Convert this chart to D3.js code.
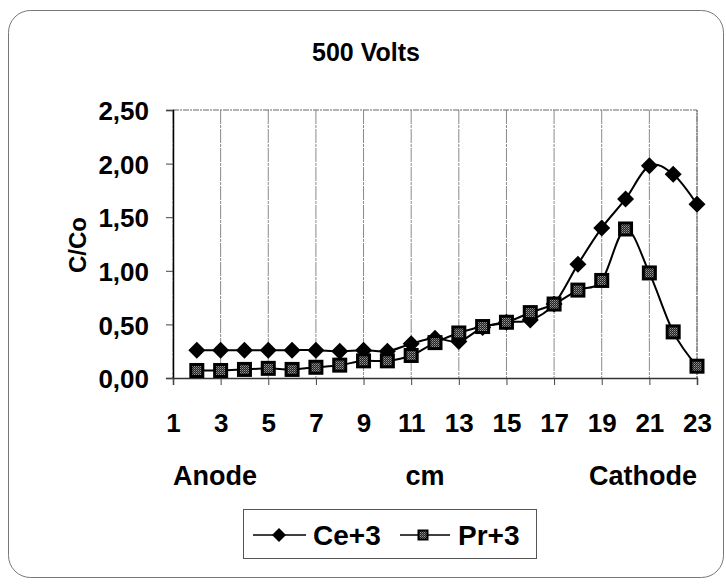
<!DOCTYPE html>
<html>
<head>
<meta charset="utf-8">
<script src="https://cdn.jsdelivr.net/npm/d3@7"></script>
<style>
  html, body { margin: 0; padding: 0; background: #fff; }
  svg text { font-family: "Liberation Sans", Arial, sans-serif; font-weight: bold; fill: #000; }
</style>
</head>
<body>
<svg id="chart" width="726" height="584"></svg>
<script>
// Concentration profile along the cell at 500 V
const categories = d3.range(1, 24);               // positions 1..23 cm
const positions = d3.range(2, 24);                // measured positions
const ceValues = [0.26, 0.26, 0.26, 0.26, 0.26, 0.26, 0.25, 0.26, 0.25, 0.32, 0.37,
                  0.34, 0.47, 0.52, 0.54, 0.69, 1.06, 1.40, 1.67, 1.98, 1.90, 1.62];
const prValues = [0.07, 0.07, 0.08, 0.09, 0.08, 0.10, 0.12, 0.16, 0.16, 0.21, 0.33,
                  0.42, 0.48, 0.52, 0.61, 0.69, 0.82, 0.91, 1.39, 0.98, 0.43, 0.11];
const xTickLabels = [1, 3, 5, 7, 9, 11, 13, 15, 17, 19, 21, 23];
const yTicks = [0, 0.5, 1.0, 1.5, 2.0, 2.5];
const seriesNames = ["Ce+3", "Pr+3"];

const svg = d3.select("#chart");
const plot = { left: 173, right: 697, top: 110, bottom: 378 };

const x = d3.scalePoint().domain(categories).range([plot.left, plot.right]);
const y = d3.scaleLinear().domain([0, 2.5]).range([plot.bottom, plot.top]);
const fmt = v => d3.format(".2f")(v).replace(".", ",");

// dithered grey fill for the square markers
const defs = svg.append("defs");
const pat = defs.append("pattern").attr("id", "dither")
  .attr("width", 2).attr("height", 2).attr("patternUnits", "userSpaceOnUse");
pat.append("rect").attr("width", 2).attr("height", 2).attr("fill", "#222");
pat.append("rect").attr("width", 1).attr("height", 1).attr("fill", "#999");
pat.append("rect").attr("x", 1).attr("y", 1).attr("width", 1).attr("height", 1).attr("fill", "#666");

// outer frame
svg.append("rect")
  .attr("x", 8.5).attr("y", 10.5).attr("width", 715).attr("height", 567)
  .attr("rx", 22).attr("ry", 22)
  .attr("fill", "none").attr("stroke", "#777").attr("stroke-width", 1);

// title
svg.append("text").attr("x", 366).attr("y", 61).attr("text-anchor", "middle")
  .attr("font-size", 25).text("500 Volts");

// vertical gridlines at labelled positions
svg.append("g").selectAll("line").data(xTickLabels).join("line")
  .attr("x1", d => x(d)).attr("x2", d => x(d))
  .attr("y1", plot.top).attr("y2", plot.bottom)
  .attr("stroke", "#8a8a8a").attr("stroke-width", 1)
  .attr("stroke-dasharray", "14,1,3,1");

// plot area top and right border
svg.append("path")
  .attr("d", `M${plot.left},${plot.top}H${plot.right}V${plot.bottom}`)
  .attr("fill", "none").attr("stroke", "#666").attr("stroke-width", 1)
  .attr("stroke-dasharray", "6,1,2,1");

// y axis
const yAxis = d3.axisLeft(y).tickValues(yTicks).tickFormat(fmt).tickSize(7).tickPadding(17);
const gy = svg.append("g").attr("transform", `translate(${plot.left},0)`).call(yAxis);
gy.select(".domain").attr("stroke", "#000").attr("stroke-width", 1.5);
gy.selectAll(".tick line").attr("stroke", "#444");
gy.selectAll(".tick text").attr("font-size", 26).attr("dy", "0.37em");

// x axis
const xAxis = d3.axisBottom(x).tickValues(xTickLabels).tickSize(7);
const gx = svg.append("g").attr("transform", `translate(0,${plot.bottom})`).call(xAxis);
gx.select(".domain").attr("stroke", "#333").attr("stroke-width", 1.5);
gx.selectAll(".tick line").attr("stroke", "#444");
gx.selectAll(".tick text").attr("font-size", 26).attr("y", 54).attr("dy", 0);

// axis titles
svg.append("text").attr("transform", "translate(86,245) rotate(-90)")
  .attr("text-anchor", "middle").attr("font-size", 24).text("C/Co");
svg.append("text").attr("x", plot.left).attr("y", 485).attr("font-size", 27).text("Anode");
svg.append("text").attr("x", 425).attr("y", 485).attr("text-anchor", "middle").attr("font-size", 27).text("cm");
svg.append("text").attr("x", plot.right).attr("y", 485).attr("text-anchor", "end").attr("font-size", 27).text("Cathode");

// series
const line = d3.line().x(d => x(d[0])).y(d => y(d[1])).curve(d3.curveCatmullRom.alpha(0));
const ceData = positions.map((p, i) => [p, ceValues[i]]);
const prData = positions.map((p, i) => [p, prValues[i]]);

const diamond = (cx, cy, r) => `M${cx},${cy - r}L${cx + r},${cy}L${cx},${cy + r}L${cx - r},${cy}Z`;

svg.append("path").datum(ceData).attr("d", line)
  .attr("fill", "none").attr("stroke", "#000").attr("stroke-width", 2);
svg.append("path").datum(prData).attr("d", line)
  .attr("fill", "none").attr("stroke", "#000").attr("stroke-width", 2);

svg.append("g").selectAll("path").data(ceData).join("path")
  .attr("d", d => diamond(x(d[0]), y(d[1]), 8.5)).attr("fill", "#000");

svg.append("g").selectAll("rect").data(prData).join("rect")
  .attr("x", d => x(d[0]) - 6).attr("y", d => y(d[1]) - 6)
  .attr("width", 12).attr("height", 12)
  .attr("fill", "url(#dither)").attr("stroke", "#000").attr("stroke-width", 3);

// legend
const lg = svg.append("g");
lg.append("rect").attr("x", 243.5).attr("y", 509.5).attr("width", 293).attr("height", 49)
  .attr("fill", "#fff").attr("stroke", "#555").attr("stroke-width", 1);
lg.append("line").attr("x1", 253).attr("x2", 306).attr("y1", 535).attr("y2", 535)
  .attr("stroke", "#000").attr("stroke-width", 1.5);
lg.append("path").attr("d", diamond(279, 535, 7)).attr("fill", "#000");
lg.append("text").attr("x", 313).attr("y", 545).attr("font-size", 28).text(seriesNames[0]);
lg.append("line").attr("x1", 400).attr("x2", 450).attr("y1", 535).attr("y2", 535)
  .attr("stroke", "#000").attr("stroke-width", 1.5);
lg.append("rect").attr("x", 418.5).attr("y", 530.5).attr("width", 9).attr("height", 9)
  .attr("fill", "url(#dither)").attr("stroke", "#000").attr("stroke-width", 2);
lg.append("text").attr("x", 458).attr("y", 545).attr("font-size", 28).text(seriesNames[1]);
</script>
</body>
</html>
